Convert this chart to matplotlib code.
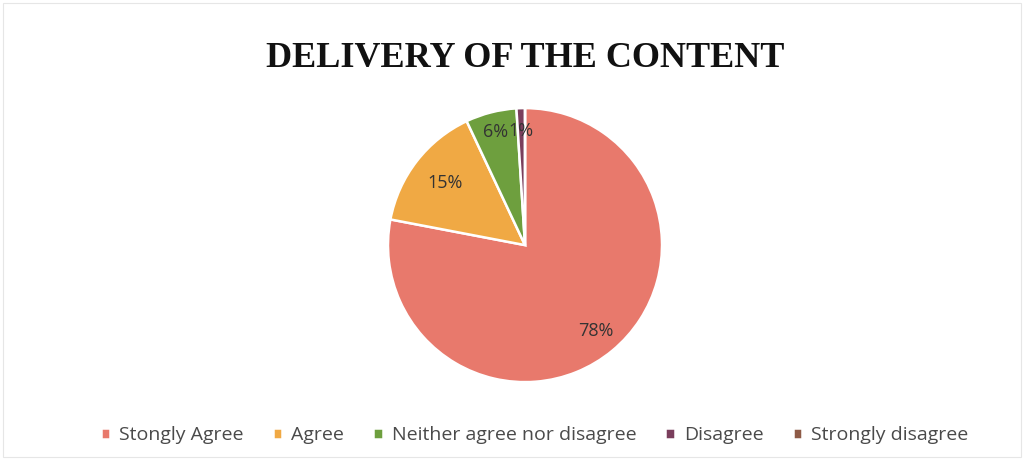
import matplotlib
matplotlib.use("Agg")
import matplotlib.pyplot as plt
import numpy as np
from matplotlib.patches import Rectangle

categories = ["Stongly Agree", "Agree", "Neither agree nor disagree", "Disagree", "Strongly disagree"]
values = [78, 15, 6, 1, 0]
colors = ["#E8796C", "#F0A944", "#6E9F3E", "#7A3E5C", "#8E5B47"]
label_dist = [0.81, 0.74, 0.85, 0.83, 0.8]

fig = plt.figure(figsize=(10.24, 4.59), dpi=100)
fig.patch.set_facecolor("white")
fig.add_artist(Rectangle((0.003, 0.004), 0.994, 0.99, transform=fig.transFigure,
                         fill=False, edgecolor="#e6e6e6", linewidth=0.8))

ax = fig.add_axes([0.5127 - 0.1338, 0.466 - 0.2985, 0.2676, 0.597])
wedges, texts, autotexts = ax.pie(values, colors=colors, startangle=90, counterclock=False,
                                  autopct=lambda p: f"{p:.0f}%" if p > 0.5 else "",
                                  pctdistance=0.8,
                                  wedgeprops=dict(edgecolor="white", linewidth=1.8),
                                  textprops=dict(fontsize=13, color="#333333", family="Open Sans"))
for t, d in zip(autotexts, label_dist):
    x, y = t.get_position()
    r = np.hypot(x, y)
    if r > 0:
        t.set_position((x / r * d, y / r * d))
ax.set_xlim(-1.0, 1.0)
ax.set_ylim(-1.0, 1.0)
ax.set_aspect("equal")

fig.text(0.513, 0.872, "DELIVERY OF THE CONTENT", ha="center", va="center",
         fontsize=26, fontweight="bold", family="Liberation Serif", color="#111111")

fig.legend(wedges, categories, loc="center", bbox_to_anchor=(0.522, 0.052), ncol=5,
           frameon=False, handlelength=0.5, handleheight=0.5, handletextpad=0.45,
           columnspacing=1.5, prop=dict(family="Open Sans", size=14),
           labelcolor="#4a4a4a")

fig.savefig("out.png", dpi=100)
